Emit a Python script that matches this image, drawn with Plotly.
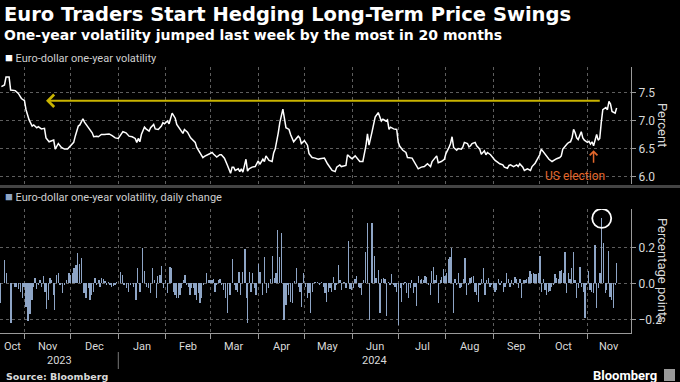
import pandas as pd
import plotly.graph_objects as go

# ---------------- data ----------------
line_dates = [
    "2023-10-17", "2023-10-19", "2023-10-20", "2023-10-22", "2023-10-23", "2023-10-26", "2023-10-28", "2023-10-30",
    "2023-11-01", "2023-11-02", "2023-11-04", "2023-11-06", "2023-11-07", "2023-11-09", "2023-11-10", "2023-11-12",
    "2023-11-14", "2023-11-15", "2023-11-17", "2023-11-18", "2023-11-20", "2023-11-21", "2023-11-22", "2023-11-23",
    "2023-11-25", "2023-11-27", "2023-11-29", "2023-12-01", "2023-12-03", "2023-12-04", "2023-12-06", "2023-12-07",
    "2023-12-09", "2023-12-10", "2023-12-11", "2023-12-13", "2023-12-15", "2023-12-16", "2023-12-18", "2023-12-19",
    "2023-12-21", "2023-12-23", "2023-12-26", "2023-12-28", "2023-12-30", "2024-01-01", "2024-01-03", "2024-01-04",
    "2024-01-06", "2024-01-08", "2024-01-10", "2024-01-12", "2024-01-13", "2024-01-14", "2024-01-15", "2024-01-16",
    "2024-01-18", "2024-01-19", "2024-01-21", "2024-01-22", "2024-01-24", "2024-01-25", "2024-01-27", "2024-01-29",
    "2024-01-30", "2024-01-31", "2024-02-02", "2024-02-03", "2024-02-05", "2024-02-07", "2024-02-08", "2024-02-10",
    "2024-02-12", "2024-02-13", "2024-02-15", "2024-02-17", "2024-02-18", "2024-02-20", "2024-02-21", "2024-02-23",
    "2024-02-25", "2024-02-26", "2024-02-28", "2024-03-02", "2024-03-03", "2024-03-05", "2024-03-07", "2024-03-08",
    "2024-03-10", "2024-03-11", "2024-03-12", "2024-03-14", "2024-03-15", "2024-03-16", "2024-03-17", "2024-03-19",
    "2024-03-20", "2024-03-21", "2024-03-22", "2024-03-24", "2024-03-25", "2024-03-26", "2024-03-28", "2024-03-30",
    "2024-03-31", "2024-04-01", "2024-04-02", "2024-04-04", "2024-04-05", "2024-04-06", "2024-04-08", "2024-04-10",
    "2024-04-11", "2024-04-12", "2024-04-14", "2024-04-15", "2024-04-17", "2024-04-18", "2024-04-19", "2024-04-21",
    "2024-04-22", "2024-04-24", "2024-04-25", "2024-04-27", "2024-04-28", "2024-04-29", "2024-05-01", "2024-05-03",
    "2024-05-04", "2024-05-06", "2024-05-08", "2024-05-10", "2024-05-11", "2024-05-14", "2024-05-16", "2024-05-18",
    "2024-05-19", "2024-05-21", "2024-05-22", "2024-05-24", "2024-05-25", "2024-05-28", "2024-05-29", "2024-05-31",
    "2024-06-01", "2024-06-03", "2024-06-05", "2024-06-06", "2024-06-08", "2024-06-10", "2024-06-11", "2024-06-12",
    "2024-06-14", "2024-06-15", "2024-06-16", "2024-06-18", "2024-06-20", "2024-06-21", "2024-06-23", "2024-06-24",
    "2024-06-25", "2024-06-26", "2024-06-28", "2024-06-30", "2024-07-01", "2024-07-02", "2024-07-04", "2024-07-06",
    "2024-07-07", "2024-07-10", "2024-07-11", "2024-07-13", "2024-07-14", "2024-07-16", "2024-07-18", "2024-07-20",
    "2024-07-22", "2024-07-23", "2024-07-25", "2024-07-26", "2024-07-27", "2024-07-29", "2024-07-31", "2024-08-01",
    "2024-08-03", "2024-08-04", "2024-08-05", "2024-08-06", "2024-08-08", "2024-08-09", "2024-08-11", "2024-08-12",
    "2024-08-13", "2024-08-15", "2024-08-16", "2024-08-17", "2024-08-18", "2024-08-20", "2024-08-21", "2024-08-23",
    "2024-08-24", "2024-08-26", "2024-08-27", "2024-08-28", "2024-08-30", "2024-08-31", "2024-09-02", "2024-09-04",
    "2024-09-05", "2024-09-07", "2024-09-08", "2024-09-10", "2024-09-11", "2024-09-12", "2024-09-14", "2024-09-16",
    "2024-09-17", "2024-09-18", "2024-09-20", "2024-09-21", "2024-09-23", "2024-09-25", "2024-09-26", "2024-09-28",
    "2024-09-29", "2024-10-01", "2024-10-02", "2024-10-03", "2024-10-04", "2024-10-06", "2024-10-07", "2024-10-09",
    "2024-10-10", "2024-10-12", "2024-10-14", "2024-10-15", "2024-10-16", "2024-10-17", "2024-10-19", "2024-10-20",
    "2024-10-21", "2024-10-22", "2024-10-23", "2024-10-24", "2024-10-25", "2024-10-26", "2024-10-27", "2024-10-28",
    "2024-10-29", "2024-10-30", "2024-11-01", "2024-11-02", "2024-11-03", "2024-11-04", "2024-11-05", "2024-11-06",
    "2024-11-07", "2024-11-08", "2024-11-09", "2024-11-10", "2024-11-11", "2024-11-13", "2024-11-14", "2024-11-15",
    "2024-11-16", "2024-11-17", "2024-11-19", "2024-11-20",
]
line_values = [
    7.60, 7.63, 7.77, 7.77, 7.54, 7.53, 7.48, 7.39,
    7.35, 7.19, 7.01, 6.90, 6.92, 6.87, 6.89, 6.85,
    6.86, 6.69, 6.62, 6.63, 6.65, 6.49, 6.54, 6.59,
    6.52, 6.49, 6.49, 6.55, 6.61, 6.72, 6.90, 6.92,
    7.03, 6.97, 6.93, 6.87, 6.78, 6.71, 6.72, 6.71,
    6.75, 6.75, 6.76, 6.73, 6.69, 6.68, 6.75, 6.80,
    6.78, 6.72, 6.71, 6.68, 6.61, 6.68, 6.62, 6.75,
    6.88, 6.85, 6.81, 6.87, 6.93, 6.85, 6.84, 6.90,
    6.96, 6.94, 6.99, 6.94, 7.13, 7.04, 6.93, 6.84,
    6.77, 6.84, 6.79, 6.69, 6.66, 6.61, 6.52, 6.43,
    6.34, 6.36, 6.39, 6.43, 6.40, 6.35, 6.39, 6.39,
    6.33, 6.25, 6.20, 6.06, 6.17, 6.17, 6.11, 6.14,
    6.09, 6.14, 6.08, 6.31, 6.10, 6.14, 6.17, 6.18,
    6.23, 6.28, 6.22, 6.31, 6.27, 6.37, 6.29, 6.27,
    6.42, 6.49, 6.78, 6.96, 7.20, 6.99, 6.87, 6.84,
    6.75, 6.62, 6.66, 6.72, 6.69, 6.59, 6.64, 6.56,
    6.41, 6.34, 6.33, 6.31, 6.32, 6.33, 6.23, 6.14,
    6.11, 6.09, 6.17, 6.21, 6.18, 6.20, 6.39, 6.34,
    6.32, 6.37, 6.31, 6.27, 6.27, 6.55, 6.76, 6.56,
    6.80, 6.96, 7.06, 7.14, 6.99, 7.02, 6.99, 7.01,
    6.84, 6.88, 6.85, 6.84, 6.61, 6.54, 6.47, 6.43,
    6.34, 6.33, 6.28, 6.20, 6.14, 6.17, 6.18, 6.23,
    6.18, 6.27, 6.35, 6.37, 6.25, 6.27, 6.31, 6.41,
    6.52, 6.59, 6.71, 6.52, 6.47, 6.50, 6.49, 6.53,
    6.61, 6.59, 6.53, 6.55, 6.59, 6.61, 6.55, 6.49,
    6.40, 6.46, 6.39, 6.43, 6.39, 6.35, 6.29, 6.25,
    6.23, 6.21, 6.17, 6.15, 6.20, 6.21, 6.18, 6.21,
    6.18, 6.23, 6.17, 6.11, 6.14, 6.11, 6.18, 6.24,
    6.30, 6.39, 6.49, 6.45, 6.41, 6.34, 6.31, 6.27,
    6.29, 6.32, 6.34, 6.37, 6.49, 6.53, 6.59, 6.61,
    6.62, 6.69, 6.84, 6.78, 6.69, 6.66, 6.75, 6.80,
    6.69, 6.65, 6.61, 6.63, 6.58, 6.62, 6.55, 6.66,
    6.75, 6.65, 6.68, 6.96, 7.19, 7.23, 7.19, 7.34,
    7.29, 7.16, 7.13, 7.22,
]

# daily change bars: days after 2023-11-01 and change in percentage points
bar_origin = "2023-11-01"
bar_day_offsets = [
    -15.9, -12.9, -11.6, -8.8, -6.2, -5.1, -4.0, -2.5, -1.4, -0.3, 1.0, 2.3, 3.6, 4.9, 5.7, 6.8, 7.9, 9.0,
    10.1, 11.2, 12.2, 13.3, 14.4, 15.5, 16.6, 17.7, 18.7, 19.4, 20.9, 22.0, 23.1, 24.6, 25.9, 27.4, 28.9,
    30.0, 31.3, 32.2, 33.5, 34.6, 35.7, 37.2, 38.7, 40.0, 41.5, 42.6, 43.7, 44.8, 45.8, 46.9, 48.4, 49.1,
    50.2, 51.3, 52.3, 53.4, 54.5, 55.6, 56.7, 57.8, 58.8, 59.9, 62.5, 63.6, 64.7, 66.4, 67.9, 69.2, 70.8,
    72.5, 73.6, 75.1, 76.6, 77.9, 79.4, 80.5, 82.0, 83.3, 84.8, 85.9, 86.6, 88.1, 89.2, 90.3, 91.8, 92.9,
    94.6, 95.7, 96.8, 97.9, 98.9, 100.0, 101.1, 102.2, 103.3, 104.4, 105.4, 106.5, 107.6, 108.7, 109.8,
    110.9, 111.9, 113.0, 114.1, 115.2, 116.3, 118.4, 119.5, 120.6, 121.9, 122.8, 123.9, 125.0, 126.0,
    127.1, 128.2, 129.3, 130.8, 132.1, 133.6, 135.1, 136.4, 137.5, 138.4, 139.5, 140.6, 141.8, 143.4,
    144.4, 145.1, 146.2, 147.3, 148.4, 149.4, 150.5, 152.0, 153.1, 154.6, 155.9, 157.4, 158.5, 160.1,
    161.4, 162.4, 163.5, 164.6, 165.7, 167.2, 168.7, 170.0, 170.9, 171.9, 173.1, 174.1, 175.5, 177.0,
    178.0, 179.1, 180.2, 181.3, 182.8, 183.9, 185.0, 186.1, 187.1, 188.9, 190.4, 191.7, 193.2, 194.3,
    195.4, 196.5, 197.5, 198.6, 199.7, 200.8, 201.9, 203.0, 204.0,
    205.1, 206.2, 207.7, 209.0, 210.6, 211.6, 212.7, 213.8, 214.9, 216.0, 217.1, 218.1, 219.2, 220.3,
    221.8, 223.1, 224.2, 225.9, 227.5, 228.5, 230.1, 231.1, 232.2, 233.3, 234.4, 235.5, 236.6, 237.6,
    238.7, 239.8, 240.9, 242.0, 243.1, 244.2, 245.2, 246.3, 247.4, 248.5, 249.6, 250.7, 251.7, 252.8,
    253.9, 255.0, 256.1, 257.2, 258.2, 259.3, 260.4, 261.5, 262.6, 263.7, 264.7, 265.8, 266.9, 268.0,
    269.1, 270.2, 271.2, 272.3, 273.4, 274.5, 275.6, 276.7, 277.7, 278.8, 279.9, 281.0, 282.1, 283.2,
    284.2, 285.3, 286.4, 287.5, 288.6, 289.7, 290.8, 291.8, 292.9, 294.0, 295.1, 296.2, 297.3, 298.3,
    299.4, 300.5, 301.6, 302.7, 303.8, 304.8, 305.9, 307.0, 308.1, 309.2, 310.3, 311.3, 312.4, 313.5,
    314.6, 315.7, 316.8, 317.8, 318.9, 320.0, 321.1, 322.2, 323.3, 324.3, 325.4, 326.5, 327.6, 328.7,
    329.8, 330.8, 331.9, 333.0, 334.1, 335.2, 336.3, 337.3, 338.4, 339.5, 340.6, 341.7, 342.8, 343.9,
    344.9, 346.0, 347.1, 348.2, 349.3, 350.4, 351.4, 352.5, 353.6, 354.7, 355.8, 356.9, 357.9, 359.0,
    360.1, 361.2, 362.3, 363.4, 364.4, 365.5, 366.6, 367.7, 368.8, 369.9, 370.9, 372.0, 373.1, 374.2,
    375.3, 376.4, 377.5, 378.6, 379.6, 380.7, 381.9, 382.9, 384.0, 385.1,
]
bar_values = [
    -0.11, 0.13, 0.056, -0.22, -0.02, -0.02, -0.03, -0.05, -0.08, -0.02, -0.13, -0.21, -0.17, -0.09, -0.02, 0.03, -0.03, -0.01,
    0.02, -0.02, 0.04, -0.05, -0.14, -0.09, 0.03, 0.02, -0.065, -0.15, 0.046, 0.06, -0.01, -0.056, -0.01, 0.02, 0.056,
    0.046, 0.056, 0.083, 0.10, 0.17, 0.11, 0.14, -0.056, -0.083, -0.028, -0.093, -0.065, -0.046, 0.031, -0.01, 0.02, -0.02,
    0.028, 0.024, 0.015, -0.01, 0.01, -0.01, -0.02, -0.015, -0.01, 0.01, 0.065, 0.046, -0.01, -0.028, -0.05, -0.01, -0.02,
    -0.093, 0.087, -0.05, 0.198, 0.069, -0.02, -0.028, -0.056, 0.083, 0.019, -0.083, 0.043, 0.046, 0.098, -0.028, 0.019, -0.056,
    0.093, 0.087, -0.046, -0.065, -0.083, -0.083, -0.065, -0.028, 0.019, 0.046, -0.01, -0.02, -0.065, -0.028, -0.028,
    -0.065, -0.093, -0.056, -0.111, -0.083, -0.01, 0.056, 0.019, 0.019, 0.019, 0.022, -0.046, -0.01, 0.019,
    0.024, -0.01, -0.037, -0.083, -0.167, -0.065, 0.135, -0.01, -0.037, -0.046, 0.061, -0.065, 0.061, 0.191,
    -0.083, -0.222, 0.065, -0.046, 0.056, -0.028, -0.065, 0.107, 0.061, -0.065, 0.148, -0.056, -0.028, 0.024,
    0.152, 0.028, 0.059, 0.296, 0.148, 0.281, -0.204, -0.12, -0.01, -0.065, -0.102, -0.111, 0.013, 0.087,
    -0.019, -0.046, -0.13, 0.059, -0.019, -0.083, -0.056, -0.167, -0.046, 0.01, 0.006, -0.01, 0.01, -0.019,
    -0.056, -0.102, -0.046, -0.028, -0.046, 0.037, -0.037, -0.01, 0.102,
    0.019, -0.037, 0.009, -0.028, 0.237, -0.031, -0.037, -0.028, 0.024, 0.041, -0.019, -0.028, -0.065, 0.019,
    0.176, 0.333, -0.204, 0.333, 0.152, 0.028, 0.074, -0.163, 0.024, 0.028, 0.022, -0.181, 0.009, -0.009,
    0.05, -0.009, -0.019, -0.046, -0.231, -0.028, -0.102, -0.009, 0.009, -0.056, -0.083, -0.028, 0.019, -0.056,
    -0.019, -0.124, 0.043, 0.019, 0.022, 0.019, 0.043, 0.037, -0.009, -0.065, 0.069, 0.093, 0.019, 0.046,
    -0.111, 0.019, 0.037, 0.080, 0.043, 0.056, 0.135, 0.148, 0.198, -0.167, 0.022, -0.009, 0.056, -0.028,
    -0.019, 0.022, 0.143, -0.065, -0.009, 0.028, 0.037, 0.043, -0.046, -0.065, -0.102, -0.009, 0.022, 0.083,
    -0.065, 0.019, 0.028, -0.019, -0.009, -0.028, -0.05, -0.037, 0.022, -0.009, 0.013, -0.046, -0.019, 0.056,
    0.024, -0.019, 0.019, -0.009, 0.037, 0.024, -0.028, 0.024, -0.083, 0.019, 0.019, 0.024, 0.037, 0.069,
    0.05, 0.056, 0.052, 0.05, 0.056, 0.152, -0.046, 0.024, -0.037, -0.065, -0.046, -0.043, -0.019, -0.009,
    0.05, 0.028, 0.024, 0.069, 0.074, 0.056, 0.176, -0.056, 0.056, 0.024, 0.087, 0.172, 0.019, -0.083,
    -0.028, 0.093, -0.019, -0.046, -0.194, -0.009, 0.069, -0.037, -0.046, -0.056, 0.213, -0.139, -0.028, 0.056,
    0.361, 0.222, -0.056, -0.037, 0.181, -0.074, -0.093, -0.139, -0.009, 0.111,
]

month_labels = ["Oct", "Nov", "Dec", "Jan", "Feb", "Mar", "Apr", "May", "Jun", "Jul", "Aug", "Sep", "Oct", "Nov"]
month_starts = ["2023-10-01", "2023-11-01", "2023-12-01", "2024-01-01", "2024-02-01", "2024-03-01", "2024-04-01",
                "2024-05-01", "2024-06-01", "2024-07-01", "2024-08-01", "2024-09-01", "2024-10-01", "2024-11-01",
                "2024-12-01"]
year_labels = ["2023", "2024"]
year_starts = ["2023-01-01", "2024-01-01", "2025-01-01"]

level_ticks = [6.0, 6.5, 7.0, 7.5]
change_ticks = [-0.2, 0.0, 0.2]
prior_high_level = 7.35
prior_high_from = "2024-11-10"
prior_high_to = "2023-11-15"
election_date = "2024-11-05"
election_level = 6.47

x_range = [pd.Timestamp("2023-10-16 02:00"), pd.Timestamp("2024-11-29 08:00")]

# ---------------- figure ----------------
W, H = 680, 382
PLOT_RIGHT = 631


def py(y):
    return 1 - y / H


def pxp(x):
    return x / PLOT_RIGHT


BG = "#000000"
GRID = "#5e5e5e"
AXIS = "#9a9a9a"
TXT = "#d9d9d9"
BAR = "#8ea5c6"
YEL = "#c9b400"
ORG = "#e4682c"

bar_x = pd.Timestamp(bar_origin) + pd.to_timedelta(bar_day_offsets, unit="D")
bar_series = pd.Series(bar_values, index=bar_x)

fig = go.Figure()
fig.add_trace(go.Scatter(x=pd.to_datetime(line_dates), y=line_values, mode="lines",
                         line=dict(color="#ffffff", width=1.5), xaxis="x", yaxis="y",
                         hoverinfo="skip"))
fig.add_trace(go.Bar(x=bar_x, y=bar_values, width=0.75 * 86400000, marker=dict(color=BAR, line=dict(width=0)),
                     xaxis="x2", yaxis="y2", hoverinfo="skip"))

common_x = dict(type="date", range=x_range, dtick="M1", tick0="2023-11-01", showgrid=True,
                gridcolor=GRID, griddash="dot", gridwidth=1, showticklabels=False, zeroline=False)

fig.update_layout(
    width=W, height=H, paper_bgcolor=BG, plot_bgcolor=BG, showlegend=False,
    margin=dict(l=0, r=W - PLOT_RIGHT, t=0, b=0),
    font=dict(family="Roboto, sans-serif", color=TXT, size=11),
    bargap=0,
    xaxis=dict(domain=[0, 1], anchor="y", ticks="", showline=False, **common_x),
    yaxis=dict(domain=[py(183.5), py(66.7)], range=[5.879, 7.955], side="right", tickvals=level_ticks,
               tickformat=".1f", showline=True, linecolor=AXIS, linewidth=1, ticks="outside", ticklen=4,
               tickcolor=AXIS, showgrid=True, gridcolor=GRID, griddash="dot", zeroline=False,
               tickfont=dict(size=12, color=TXT)),
    xaxis2=dict(domain=[0, 1], anchor="y2", matches="x", ticks="outside", ticklen=5, tickcolor=AXIS,
                showline=True, linecolor=AXIS, linewidth=1, **common_x),
    yaxis2=dict(domain=[py(333), py(209)], range=[-0.276, 0.413], side="right", tickvals=change_ticks,
                tickformat=".1f", showline=True, linecolor=AXIS, linewidth=1, ticks="outside", ticklen=4,
                tickcolor=AXIS, showgrid=True, gridcolor=GRID, griddash="dot", zeroline=False,
                tickfont=dict(size=12, color=TXT)),
)

annotations = []
shapes = []

# titles
annotations.append(dict(x=pxp(2), y=py(15), xref="paper", yref="paper", xanchor="left", yanchor="middle",
                        showarrow=False, text="<b>Euro Traders Start Hedging Long-Term Price Swings</b>",
                        font=dict(family="DejaVu Sans", size=19.5, color="#ffffff")))
annotations.append(dict(x=pxp(2), y=py(35), xref="paper", yref="paper", xanchor="left", yanchor="middle",
                        showarrow=False, text="<b>One-year volatility jumped last week by the most in 20 months</b>",
                        font=dict(family="DejaVu Sans", size=14, color="#ffffff")))
# legends
annotations.append(dict(x=pxp(3), y=py(57), xref="paper", yref="paper", xanchor="left", yanchor="middle",
                        showarrow=False,
                        text='<span style="color:#ffffff;font-size:13px">■</span> Euro-dollar one-year volatility',
                        font=dict(size=11, color="#cfcfcf")))
annotations.append(dict(x=pxp(3), y=py(197), xref="paper", yref="paper", xanchor="left", yanchor="middle",
                        showarrow=False,
                        text='<span style="color:%s;font-size:13px">■</span> Euro-dollar one-year volatility, daily change' % BAR,
                        font=dict(size=11, color="#cfcfcf")))
# axis titles
annotations.append(dict(x=pxp(663), y=py(125), xref="paper", yref="paper", xanchor="center", yanchor="middle",
                        showarrow=False, text="Percent", textangle=90, font=dict(size=13, color=TXT)))
annotations.append(dict(x=pxp(663), y=py(271), xref="paper", yref="paper", xanchor="center", yanchor="middle",
                        showarrow=False, text="Percentage points", textangle=90, font=dict(size=13, color=TXT)))

# month labels centred on the visible part of each month
ms = pd.to_datetime(month_starts)
for i, lab in enumerate(month_labels):
    s = max(ms[i], x_range[0])
    e = min(ms[i + 1], x_range[1])
    mid = s + (e - s) / 2
    annotations.append(dict(x=mid, y=py(346), xref="x2", yref="paper", xanchor="center", yanchor="middle",
                            showarrow=False, text=lab, font=dict(size=11, color=TXT)))
ys = pd.to_datetime(year_starts)
for i, lab in enumerate(year_labels):
    s = max(ys[i], x_range[0])
    e = min(ys[i + 1], x_range[1])
    mid = s + (e - s) / 2
    annotations.append(dict(x=mid, y=py(360), xref="x2", yref="paper", xanchor="center", yanchor="middle",
                            showarrow=False, text=lab, font=dict(size=11, color=TXT)))
shapes.append(dict(type="line", xref="x2", yref="paper", x0=ys[1], x1=ys[1], y0=py(352), y1=py(369),
                   line=dict(color="#777777", width=1)))

# prior-high arrow
annotations.append(dict(x=prior_high_to, y=prior_high_level, ax=prior_high_from, ay=prior_high_level,
                        xref="x", yref="y", axref="x", ayref="y", text="", showarrow=True,
                        arrowhead=4, arrowsize=1.2, arrowwidth=2, arrowcolor=YEL))
# election marker
annotations.append(dict(x=election_date, y=election_level, xref="x", yref="y", ax=0, ay=14, text="",
                        showarrow=True, arrowhead=4, arrowsize=1, arrowwidth=1.5, arrowcolor=ORG))
annotations.append(dict(x=pxp(575), y=py(176), xref="paper", yref="paper", xanchor="center", yanchor="middle",
                        showarrow=False, text="US election", font=dict(size=12, color=ORG)))

# circle around the biggest jump
top_day = bar_series.idxmax()
shapes.append(dict(type="circle", xref="x2", yref="y2", xsizemode="pixel", ysizemode="pixel",
                   xanchor=top_day, yanchor=float(bar_series.max()), x0=-9.5, x1=9.5, y0=-9.5, y1=9.5,
                   line=dict(color="#ffffff", width=1.8)))

# panel separator
shapes.append(dict(type="line", xref="paper", yref="paper", x0=0, x1=W / PLOT_RIGHT, y0=py(186.5), y1=py(186.5),
                   line=dict(color="#444444", width=3)))

# footer
annotations.append(dict(x=pxp(4), y=py(376), xref="paper", yref="paper", xanchor="left", yanchor="middle",
                        showarrow=False, text="<b>Source: Bloomberg</b>",
                        font=dict(family="DejaVu Sans", size=9.5, color=TXT)))
annotations.append(dict(x=pxp(659), y=py(375), xref="paper", yref="paper", xanchor="right", yanchor="middle",
                        showarrow=False, text="<b>Bloomberg</b>", font=dict(size=13, color="#ffffff")))
shapes.append(dict(type="rect", xref="paper", yref="paper", x0=pxp(664), x1=pxp(675), y0=py(381), y1=py(369),
                   fillcolor="#9a9a9a", line=dict(width=0)))

fig.update_layout(annotations=annotations, shapes=shapes)
fig.write_html("out.html", config={"displayModeBar": False, "staticPlot": True},
               post_script="document.body.style.margin='0';document.body.style.overflow='hidden';")
